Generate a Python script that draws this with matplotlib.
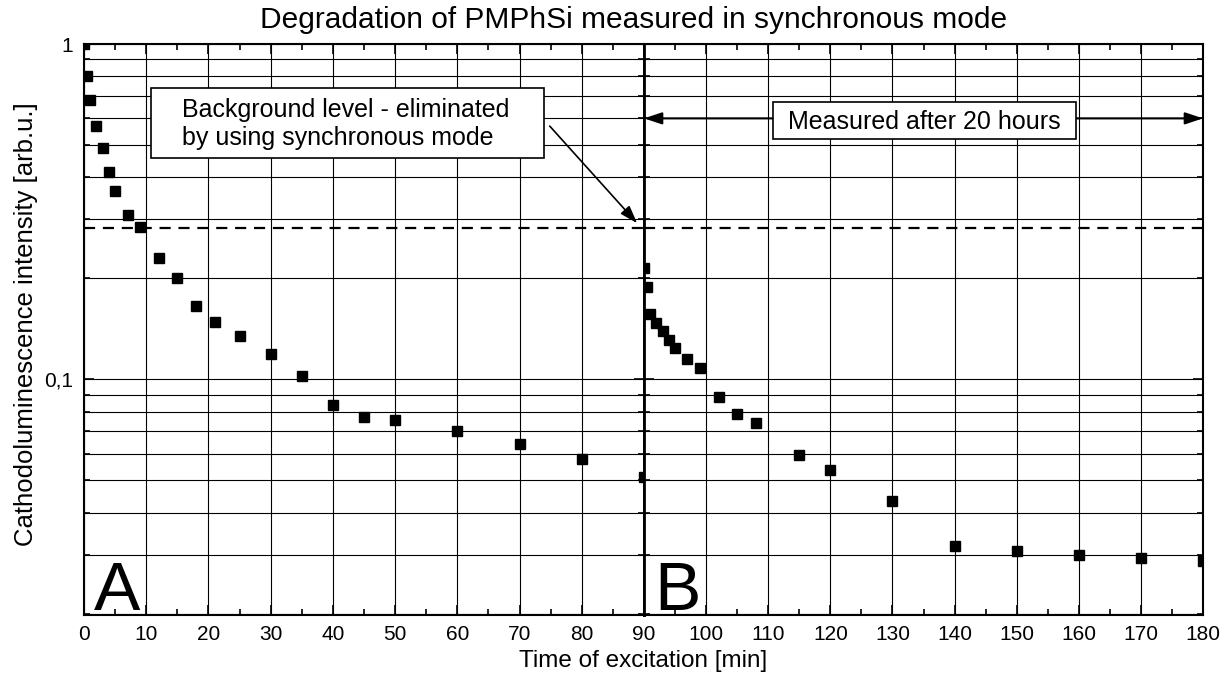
import matplotlib
matplotlib.use("Agg")
import matplotlib.pyplot as plt
from matplotlib.ticker import FixedLocator, FixedFormatter, NullFormatter
from matplotlib.patches import Rectangle

plt.rcParams['font.family'] = ['Liberation Sans', 'DejaVu Sans']

# ---- data ----
time_a = [0, 0.5, 1, 2, 3, 4, 5, 7, 9, 12, 15, 18, 21, 25, 30, 35, 40, 45, 50, 60, 70, 80, 90]
intensity_a = [1.0, 0.80, 0.68, 0.57, 0.49, 0.415, 0.365, 0.31, 0.285, 0.23, 0.20, 0.165, 0.148,
               0.135, 0.119, 0.102, 0.084, 0.077, 0.0755, 0.070, 0.064, 0.058, 0.051]
time_b = [90, 90.5, 91, 92, 93, 94, 95, 97, 99, 102, 105, 108, 115, 120, 130, 140, 150, 160, 170, 180]
intensity_b = [0.214, 0.189, 0.156, 0.147, 0.139, 0.131, 0.124, 0.115, 0.108, 0.0886, 0.079, 0.074,
               0.0596, 0.0535, 0.0432, 0.0319, 0.0307, 0.0299, 0.0293, 0.0287]
background_level = 0.283

x_ticks_a = [0, 10, 20, 30, 40, 50, 60, 70, 80, 90]
x_labels_a = ['0', '10', '20', '30', '40', '50', '60', '70', '80', '90']
x_minor_a = [5, 15, 25, 35, 45, 55, 65, 75, 85]
x_ticks_b = [90, 100, 110, 120, 130, 140, 150, 160, 170, 180]
x_labels_b = ['', '100', '110', '120', '130', '140', '150', '160', '170', '180']
x_minor_b = [95, 105, 115, 125, 135, 145, 155, 165, 175]
y_major = [0.1, 1.0]
y_major_labels = ['0,1', '1']
y_minor = [0.02, 0.03, 0.04, 0.05, 0.06, 0.07, 0.08, 0.09,
           0.2, 0.3, 0.4, 0.5, 0.6, 0.7, 0.8, 0.9]

title = "Degradation of PMPhSi measured in synchronous mode"
xlabel = "Time of excitation [min]"
ylabel = "Cathodoluminescence intensity [arb.u.]"

# ---- figure ----
W, H = 1232, 677
fig = plt.figure(figsize=(W / 100, H / 100), dpi=100)
L, M, R = 84 / W, 644 / W, 1203 / W
B, T = 1 - 615 / H, 1 - 44 / H
axA = fig.add_axes([L, B, M - L, T - B])
axB = fig.add_axes([M, B, R - M, T - B])

for ax, xt, xl, xm, xlim in ((axA, x_ticks_a, x_labels_a, x_minor_a, (0, 90)),
                             (axB, x_ticks_b, x_labels_b, x_minor_b, (90, 180))):
    ax.set_yscale('log')
    ax.set_ylim(0.0198, 1.0)
    ax.set_xlim(*xlim)
    ax.xaxis.set_major_locator(FixedLocator(xt))
    ax.xaxis.set_major_formatter(FixedFormatter(xl))
    ax.xaxis.set_minor_locator(FixedLocator(xm))
    ax.yaxis.set_major_locator(FixedLocator(y_major))
    ax.yaxis.set_minor_locator(FixedLocator(y_minor))
    ax.yaxis.set_minor_formatter(NullFormatter())
    ax.set_axisbelow(True)
    ax.grid(which='major', axis='x', color='k', lw=0.8)
    ax.grid(which='both', axis='y', color='k', lw=0.8)
    ax.tick_params(which='both', direction='in', top=True, right=True, width=1.2, colors='k')
    ax.tick_params(which='major', length=7, labelsize=15, pad=7)
    ax.tick_params(which='minor', length=4)
    for s in ax.spines.values():
        s.set_linewidth(1.5)
    ax.axhline(background_level, color='k', lw=1.6, ls=(0, (5, 3.5)), zorder=2)

axA.yaxis.set_major_formatter(FixedFormatter(y_major_labels))
axA.tick_params(axis='y', pad=8)
axB.yaxis.set_major_formatter(NullFormatter())
axA.spines['right'].set_linewidth(2)
axB.spines['left'].set_linewidth(2)

axA.plot(time_a, intensity_a, 's', color='k', ms=7.8, zorder=3)
axB.plot(time_b, intensity_b, 's', color='k', ms=7.8, zorder=3)

# panel letters
axA.text(0.018, 0.009, 'A', transform=axA.transAxes, fontsize=50, ha='left', va='baseline')
axB.text(0.018, 0.009, 'B', transform=axB.transAxes, fontsize=50, ha='left', va='baseline')

# annotation box A
axA.add_patch(Rectangle((10.83, 0.456), 73.9 - 10.83, 0.738 - 0.456, transform=axA.transData,
                        facecolor='white', edgecolor='k', lw=1.2, zorder=5))
axA.text(15.81, 0.4997, "Background level - eliminated\nby using synchronous mode",
         fontsize=18, ha='left', va='baseline', multialignment='left', zorder=6)
axA.annotate('', xy=(88.9, 0.292), xytext=(74.85, 0.569),
             arrowprops=dict(arrowstyle='-|>,head_length=0.9,head_width=0.3', color='k', lw=1.2,
                             shrinkA=0, shrinkB=0, mutation_scale=12),
             annotation_clip=False, zorder=6)

# annotation B
axB.annotate('', xy=(90, 0.6), xytext=(180, 0.6),
             arrowprops=dict(arrowstyle='<|-|>,head_length=0.9,head_width=0.3', color='k', lw=1.5,
                             shrinkA=0, shrinkB=0, mutation_scale=12),
             annotation_clip=False, zorder=4)
axB.add_patch(Rectangle((110.71, 0.521), 159.52 - 110.71, 0.673 - 0.521, transform=axB.transData,
                        facecolor='white', edgecolor='k', lw=1.2, zorder=5))
axB.text(135.1, 0.5566, "Measured after 20 hours", fontsize=18, ha='center', va='baseline', zorder=6)

# titles and labels
cx = (L + R) / 2
fig.text(634 / W, 1 - 28.3 / H, title, ha='center', va='baseline', fontsize=21.5)
fig.text(cx, 1 - 667 / H, xlabel, ha='center', va='baseline', fontsize=17.5)
fig.text(33.3 / W, 1 - 324.5 / H, ylabel, rotation=90, rotation_mode='anchor',
         ha='center', va='baseline', fontsize=18.5)

fig.savefig('out.png', dpi=100)
